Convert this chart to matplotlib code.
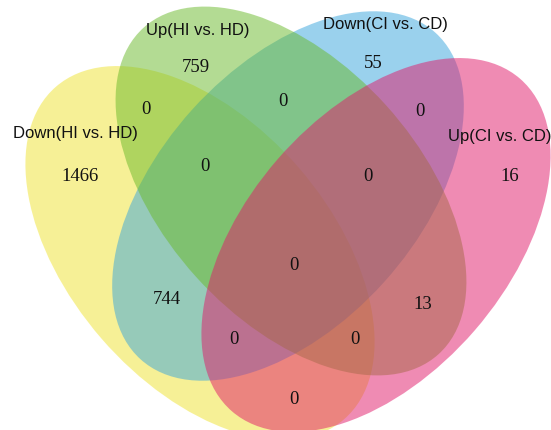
import matplotlib.pyplot as plt
from matplotlib.patches import Ellipse

# set names and region counts
set_names = ["Down(HI vs. HD)", "Up(HI vs. HD)", "Down(CI vs. CD)", "Up(CI vs. CD)"]
set_colors = ["#efe32f", "#69b929", "#37a5dd", "#e11969"]

# region keys: which sets (0=Down HI, 1=Up HI, 2=Down CI, 3=Up CI)
region_sets = [
    (0,), (1,), (2,), (3,),
    (0, 1), (1, 2), (2, 3), (0, 2), (1, 3), (0, 3),
    (0, 1, 2), (1, 2, 3), (0, 2, 3), (0, 1, 3),
    (0, 1, 2, 3),
]
region_counts = [1466, 759, 55, 16, 0, 0, 0, 744, 13, 0, 0, 0, 0, 0, 0]

# layout (pixel space, y down)
ellipse_geom = {
    0: (200, 254, 440, 261, 49.1),
    1: (291, 192, 440, 256, 47.9),
    2: (288, 197, 440, 258, -47.9),
    3: (376, 246, 440, 261, -49.1),
}
draw_order = [0, 2, 1, 3]
label_pos = {0: (75, 134), 1: (198, 31), 2: (385, 25), 3: (500, 137)}
region_pos = {
    (0,): (80, 177), (1,): (196, 67), (2,): (373, 64), (3,): (510, 177),
    (0, 1): (146, 110), (1, 2): (283, 102), (2, 3): (420, 112),
    (0, 2): (167, 300), (1, 3): (423, 305), (0, 3): (294, 400),
    (0, 1, 2): (205, 167), (1, 2, 3): (368, 177), (0, 2, 3): (234, 340),
    (0, 1, 3): (355, 340), (0, 1, 2, 3): (294, 266),
}

fig = plt.figure(figsize=(5.51, 4.31), dpi=100)
ax = fig.add_axes([0, 0, 1, 1])
ax.set_xlim(0, 551)
ax.set_ylim(431, 0)
ax.axis("off")

for i in draw_order:
    cx, cy, w, h, ang = ellipse_geom[i]
    ax.add_patch(Ellipse((cx, cy), w, h, angle=ang, facecolor=set_colors[i],
                         edgecolor="none", alpha=0.5))

for i, name in enumerate(set_names):
    x, y = label_pos[i]
    ax.text(x, y, name, ha="center", va="center", fontsize=12,
            family="Liberation Sans", color="#111111")

for key, count in zip(region_sets, region_counts):
    x, y = region_pos[key]
    ax.text(x, y, str(count), ha="center", va="center", fontsize=13.5,
            family="Liberation Serif", color="#111111")

fig.savefig("out.png", dpi=100)
